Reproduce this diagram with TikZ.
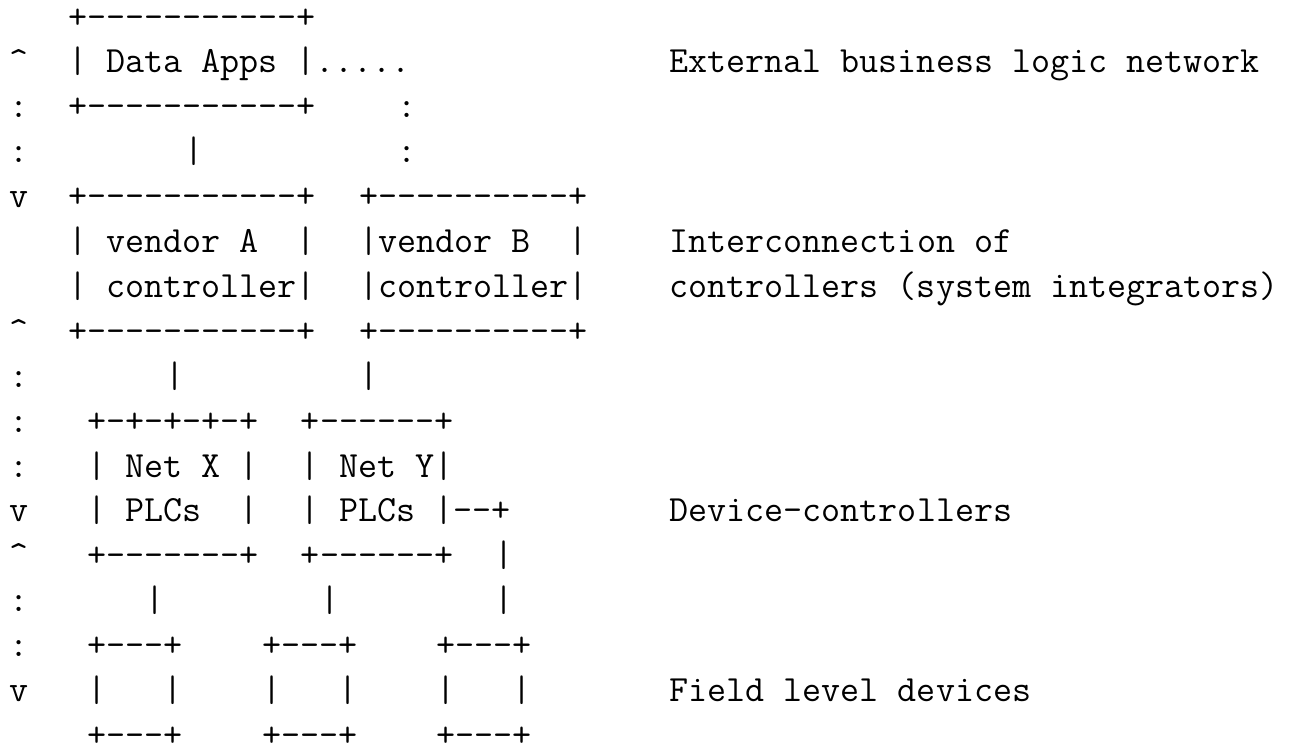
\documentclass[tikz,border=0pt]{standalone}
\usepackage{fontspec}

\begin{document}
\begin{tikzpicture}[
    x=9.7pt, y=-22.45pt,
    ascii/.style={anchor=base west, inner sep=0pt, outer sep=0pt, font=\ttfamily\fontsize{18.48pt}{22.45pt}\selectfont},
    layer/.style={ascii}
]
    \useasboundingbox (-0.515, 0.376) rectangle (65.93, 17.147);

    % --- Data Apps (top) ---
    \node[ascii] (app_top) at (3, 1) {+-----------+};
    \node[ascii] (up_a) at (0, 2) {\textasciicircum};
    \node[ascii] (apps) at (3, 2) {| Data Apps |.....};
    \node[ascii] (col_a1) at (0, 3) {:};
    \node[ascii] (app_bot) at (3, 3) {+-----------+};
    \node[ascii] (dot_b1) at (20, 3) {:};
    \node[ascii] (col_a2) at (0, 4) {:};
    \node[ascii] (link_a) at (9, 4) {|};
    \node[ascii] (dot_b2) at (20, 4) {:};
    \node[ascii] (down_a) at (0, 5) {v};

    % --- Vendor controllers ---
    \node[ascii] (ctla_top) at (3, 5) {+-----------+};
    \node[ascii] (ctlb_top) at (18, 5) {+----------+};
    \node[ascii] (ctla_one) at (3, 6) {| vendor A~~|};
    \node[ascii] (ctlb_one) at (18, 6) {|vendor B~~|};
    \node[ascii] (ctla_two) at (3, 7) {| controller|};
    \node[ascii] (ctlb_two) at (18, 7) {|controller|};
    \node[ascii] (up_b) at (0, 8) {\textasciicircum};
    \node[ascii] (ctla_bot) at (3, 8) {+-----------+};
    \node[ascii] (ctlb_bot) at (18, 8) {+----------+};
    \node[ascii] (col_b1) at (0, 9) {:};
    \node[ascii] (link_x) at (8, 9) {|};
    \node[ascii] (link_y) at (18, 9) {|};

    % --- PLC networks ---
    \node[ascii] (col_b2) at (0, 10) {:};
    \node[ascii] (netx_top) at (4, 10) {+-+-+-+-+};
    \node[ascii] (nety_top) at (15, 10) {+------+};
    \node[ascii] (col_b3) at (0, 11) {:};
    \node[ascii] (netx_one) at (4, 11) {| Net X |};
    \node[ascii] (nety_one) at (15, 11) {| Net Y|};
    \node[ascii] (down_b) at (0, 12) {v};
    \node[ascii] (netx_two) at (4, 12) {| PLCs~~|};
    \node[ascii] (nety_two) at (15, 12) {| PLCs |--+};
    \node[ascii] (up_c) at (0, 13) {\textasciicircum};
    \node[ascii] (netx_bot) at (4, 13) {+-------+};
    \node[ascii] (nety_bot) at (15, 13) {+------+};
    \node[ascii] (link_z1) at (25, 13) {|};

    % --- Field level devices ---
    \node[ascii] (col_c1) at (0, 14) {:};
    \node[ascii] (link_f1) at (7, 14) {|};
    \node[ascii] (link_f2) at (16, 14) {|};
    \node[ascii] (link_z2) at (25, 14) {|};
    \node[ascii] (col_c2) at (0, 15) {:};
    \foreach \c/\n in {4/one, 13/two, 22/three} {
        \node[ascii] (dev_\n_top) at (\c, 15) {+---+};
        \node[ascii] (dev_\n_mid) at (\c, 16) {|~~~|};
        \node[ascii] (dev_\n_bot) at (\c, 17) {+---+};
    }
    \node[ascii] (down_c) at (0, 16) {v};

    % --- Layer labels (right) ---
    \node[layer] (lab_ext) at (34, 2) {External business logic network};
    \node[layer] (lab_int) at (34, 6) {Interconnection of};
    \node[layer] (lab_sys) at (34, 7) {controllers (system integrators)};
    \node[layer] (lab_dev) at (34, 12) {Device-controllers};
    \node[layer] (lab_fld) at (34, 16) {Field level devices};

\end{tikzpicture}
\end{document}
